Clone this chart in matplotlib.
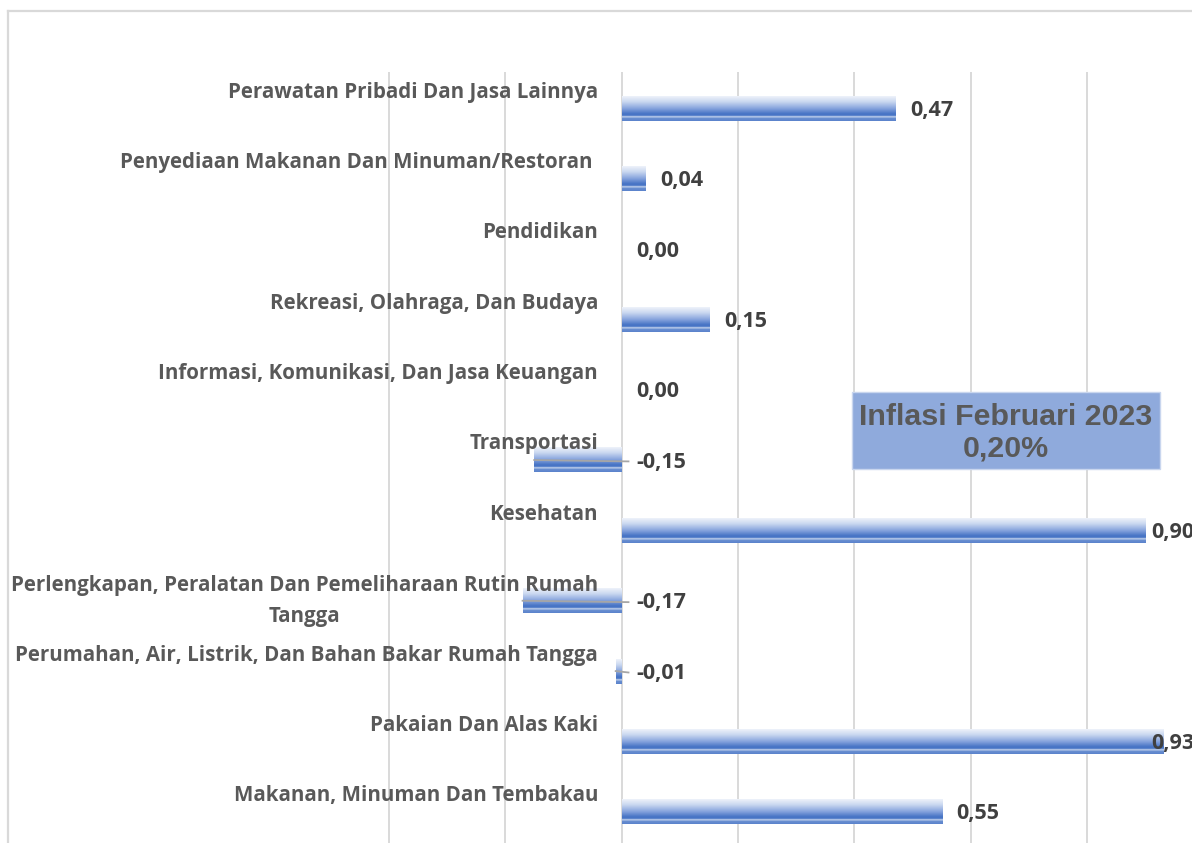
import numpy as np
import matplotlib.pyplot as plt
from matplotlib.colors import to_rgb
from matplotlib.lines import Line2D

# data
categories = [
    "Perawatan Pribadi Dan Jasa Lainnya",
    "Penyediaan Makanan Dan Minuman/Restoran ",
    "Pendidikan",
    "Rekreasi, Olahraga, Dan Budaya",
    "Informasi, Komunikasi, Dan Jasa Keuangan",
    "Transportasi",
    "Kesehatan",
    "Perlengkapan, Peralatan Dan Pemeliharaan Rutin Rumah\nTangga",
    "Perumahan, Air, Listrik, Dan Bahan Bakar Rumah Tangga",
    "Pakaian Dan Alas Kaki",
    "Makanan, Minuman Dan Tembakau",
]
values = [0.47, 0.04, 0.00, 0.15, 0.00, -0.15, 0.90, -0.17, -0.01, 0.93, 0.55]
value_labels = ["0,47", "0,04", "0,00", "0,15", "0,00", "-0,15", "0,90", "-0,17", "-0,01", "0,93", "0,55"]
box_text = "Inflasi Februari 2023\n0,20%"

W, H = 1192, 843
fig = plt.figure(figsize=(W / 100, H / 100), dpi=100)

# plot area in pixels: x -0.4 at 388, right edge of picture; y from 73 to 847
xmin, px_per_unit = -0.4, 582.0
x0_px = 621.5 + xmin * px_per_unit
xmax = (W - 621.5) / px_per_unit
top_px, bot_px = 73, 847
ax = fig.add_axes([x0_px / W, 1 - bot_px / H, (W - x0_px) / W, (bot_px - top_px) / H])
ax.set_xlim(xmin, xmax)
ax.set_ylim(len(categories) - 0.5, -0.5)
ax.axis("off")

px = 1.0 / px_per_unit  # one pixel in x data units
py = len(categories) / (bot_px - top_px)  # one pixel in y data units

# gridlines
for g in np.arange(-0.4, 0.81, 0.2):
    ax.axvline(g, color="#d9d9d9", lw=1.4, zorder=0, clip_on=False)

# gradient for the bars (top -> bottom)
stops = [(0.00, "#eef2fa"), (0.22, "#cad8f0"), (0.50, "#85a3dd"), (0.70, "#4a76c6"),
         (0.79, "#4472c4"), (0.81, "#b4c7e8"), (0.86, "#b4c7e8"), (0.88, "#6b90d1"),
         (1.00, "#5b83cc")]
n = 60
t = np.linspace(0, 1, n)
pos = [s[0] for s in stops]
cols = np.array([to_rgb(s[1]) for s in stops])
grad = np.stack([np.interp(t, pos, cols[:, k]) for k in range(3)], axis=1)[:, None, :]

bar_h = 0.355
for i, v in enumerate(values):
    if v != 0:
        left, right = min(0, v), max(0, v)
        ax.imshow(grad, extent=[left, right, i + bar_h / 2, i - bar_h / 2],
                  origin="upper", aspect="auto", interpolation="bilinear", zorder=2)
ax.set_xlim(xmin, xmax)
ax.set_ylim(len(categories) - 0.5, -0.5)

label_font = "Open Sans"
line_px = 31.5

# category labels above bars (baseline of last line is used by matplotlib)
for i, c in enumerate(categories):
    extra = c.count("\n") * line_px * py
    ax.text(-23.5 * px, i - 0.15 + extra, c, ha="right", va="baseline",
            multialignment="center", fontsize=14.8, fontweight="bold", color="#595959",
            family=label_font, linespacing=1.63, clip_on=False, zorder=4)

# value labels
for i, (v, lab) in enumerate(zip(values, value_labels)):
    lx = min(max(v, 0) + 15 * px, (1151 - 621.5) * px)
    ax.text(lx, i + 0.03, lab, ha="left", va="center", fontsize=15.5,
            fontweight="bold", color="#404040", family=label_font, zorder=4)
    if v < 0:
        ax.plot([v, lx - 8 * px], [i, i + 0.02], color="#a6a6a6", lw=1.3, zorder=3)

# inflation box
bx0, bx1, by0, by1 = 852, 1160, 392, 469
fig.patches.append(plt.Rectangle((bx0 / W, 1 - by1 / H), (bx1 - bx0) / W, (by1 - by0) / H,
                                 transform=fig.transFigure, facecolor="#8faadc",
                                 edgecolor="#c9d6ee", lw=1.0, zorder=5))
fig.text((bx0 + bx1) / 2 / W, 1 - ((by0 + by1) / 2 + 2.5) / H, box_text, ha="center",
         va="center", fontsize=21.9, fontweight="bold", color="#595959",
         family="Liberation Sans", linespacing=1.14, zorder=6)

# outer chart border (left and top visible)
fig.add_artist(Line2D([8 / W, 8 / W], [0, 1 - 11 / H], color="#d9d9d9", lw=1.6,
                      transform=fig.transFigure))
fig.add_artist(Line2D([8 / W, 1], [1 - 11 / H, 1 - 11 / H], color="#d9d9d9", lw=1.6,
                      transform=fig.transFigure))

fig.savefig("out.png", dpi=100, facecolor="white")
